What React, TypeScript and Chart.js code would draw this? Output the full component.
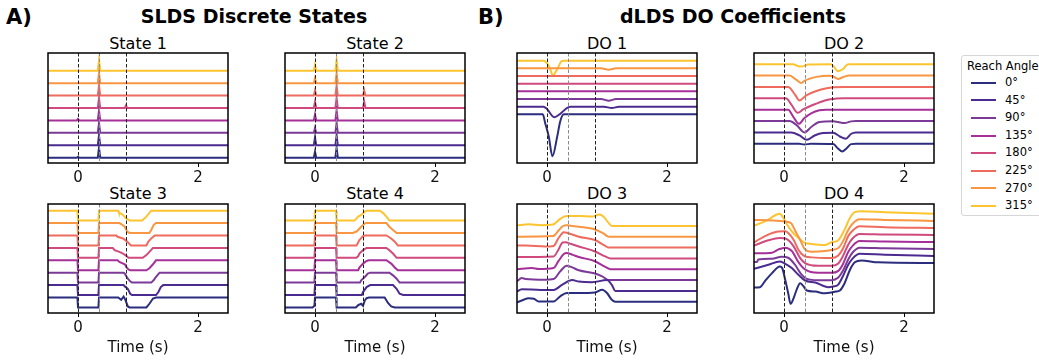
import React, { useEffect, useRef } from "react";
import { Chart, registerables } from "chart.js";

Chart.register(...registerables);

type Pt = [number, number];

const FONT = "'DejaVu Sans', sans-serif";
const ANGLES = ["0°", "45°", "90°", "135°", "180°", "225°", "270°", "315°"];
const COLORS = ["#2b2d7e", "#4b2b90", "#7b3a98", "#a5309a", "#d04a7d", "#ee6b5e", "#f89641", "#fcc42e"];
const EVENT_TIMES = [0, 0.35, 0.8];
const EVENT_COLORS = ["#222222", "#8a8a8a", "#222222"];
const X_TICKS = [0, 2];
const X_MIN = -0.5;
const X_MAX = 2.5;

// ---------- SLDS discrete-state probabilities (one list per reach angle, 0° .. 315°) ----------
const STATE1: Pt[][] = [
  [[-0.5, 0], [-0.02, 0], [0, 0.1], [0.02, 0], [0.33, 0], [0.35, 1], [0.37, 0], [2.5, 0]],
  [[-0.5, 0], [0.33, 0], [0.35, 1], [0.37, 0], [2.5, 0]],
  [[-0.5, 0], [0.33, 0], [0.35, 1], [0.37, 0], [2.5, 0]],
  [[-0.5, 0], [-0.02, 0], [0, 0.15], [0.02, 0], [0.33, 0], [0.35, 1], [0.37, 0], [2.5, 0]],
  [[-0.5, 0], [0.33, 0], [0.35, 1], [0.37, 0], [0.78, 0], [0.8, 0.25], [0.82, 0], [2.5, 0]],
  [[-0.5, 0], [0.33, 0], [0.35, 1], [0.37, 0], [2.5, 0]],
  [[-0.5, 0], [0.33, 0], [0.35, 1], [0.37, 0], [2.5, 0]],
  [[-0.5, 0], [0.33, 0], [0.35, 1.05], [0.37, 0], [2.5, 0]],
];

const STATE2: Pt[][] = [
  [[-0.5, 0], [-0.02, 0], [0, 0.6], [0.02, 0], [0.34, 0], [0.36, 1], [0.38, 0], [2.5, 0]],
  [[-0.5, 0], [-0.02, 0], [0, 0.8], [0.02, 0], [0.34, 0], [0.36, 1], [0.38, 0], [2.5, 0]],
  [[-0.5, 0], [-0.02, 0], [0, 0.5], [0.02, 0], [0.34, 0], [0.36, 1], [0.38, 0], [2.5, 0]],
  [[-0.5, 0], [-0.02, 0], [0, 0.6], [0.02, 0], [0.34, 0], [0.36, 1], [0.38, 0], [2.5, 0]],
  [[-0.5, 0], [-0.02, 0], [0, 0.6], [0.02, 0], [0.34, 0], [0.36, 1], [0.38, 0], [0.8, 0], [0.82, 0.64], [0.84, 0], [2.5, 0]],
  [[-0.5, 0], [-0.02, 0], [0, 0.5], [0.02, 0], [0.34, 0], [0.36, 1], [0.38, 0], [0.8, 0], [0.82, 0.5], [0.84, 0], [2.5, 0]],
  [[-0.5, 0], [-0.02, 0], [0, 0.5], [0.02, 0], [0.34, 0], [0.36, 1], [0.38, 0], [2.5, 0]],
  [[-0.5, 0], [-0.02, 0], [0, 0.6], [0.02, 0], [0.34, 0], [0.36, 1.05], [0.38, 0], [2.5, 0]],
];

const STATE3: Pt[][] = [
  [[-0.5, 1], [-0.01, 1], [0, 0], [0.34, 0], [0.35, 1], [0.67, 1], [0.72, 0.77], [0.76, 1.1], [0.79, 0.77], [0.83, 0.1], [0.86, 0], [1.14, 0], [1.19, 0.37], [1.25, 0.9], [1.3, 1], [2.5, 1]],
  [[-0.5, 1], [-0.01, 1], [0, 0], [0.34, 0], [0.35, 1], [0.76, 1], [0.78, 0.87], [0.83, 0.63], [0.87, 0.13], [0.9, 0], [1.3, 0], [1.34, 0.3], [1.38, 0.8], [1.42, 1], [2.5, 1]],
  [[-0.5, 1], [-0.01, 1], [0, 0], [0.34, 0], [0.35, 1], [0.76, 1], [0.78, 0.9], [0.83, 0.4], [0.87, 0.13], [0.9, 0], [1.22, 0], [1.26, 0.23], [1.3, 0.57], [1.36, 1], [2.5, 1]],
  [[-0.5, 1], [-0.01, 1], [0, 0], [0.34, 0], [0.35, 1], [0.66, 1], [0.69, 0.83], [0.78, 0.6], [0.81, 0.27], [0.84, 0.07], [0.87, 0], [1.14, 0], [1.19, 0.2], [1.25, 0.6], [1.3, 1], [2.5, 1]],
  [[-0.5, 1], [-0.01, 1], [0, 0], [0.34, 0], [0.35, 1], [0.58, 1], [0.61, 0.77], [0.69, 0.6], [0.75, 0.43], [0.81, 0.17], [0.84, 0], [1.08, 0], [1.14, 0.27], [1.19, 0.6], [1.25, 1], [2.5, 1]],
  [[-0.5, 1], [-0.01, 1], [0, 0], [0.34, 0], [0.35, 1], [0.64, 1], [0.66, 0.87], [0.75, 0.7], [0.81, 0.43], [0.85, 0.2], [0.88, 0], [1.14, 0], [1.17, 0.37], [1.22, 0.7], [1.28, 1], [2.5, 1]],
  [[-0.5, 1], [-0.01, 1], [0, 0], [0.34, 0], [0.35, 1], [0.69, 1], [0.72, 0.9], [0.78, 0.63], [0.82, 0.13], [0.86, 0], [1.19, 0], [1.22, 0.3], [1.26, 0.8], [1.3, 1], [2.5, 1]],
  [[-0.5, 1], [-0.01, 1], [0, 0], [0.34, 0], [0.35, 1], [0.67, 1], [0.68, 0.83], [0.75, 0.57], [0.8, 0.23], [0.86, 0], [1.07, 0], [1.14, 0.4], [1.22, 1], [2.5, 1]],
];

const STATE4: Pt[][] = [
  [[-0.5, 0], [-0.04, 0], [-0.01, 0.17], [0, 1], [0.35, 1], [0.36, 0], [0.68, 0], [0.72, 0.23], [0.77, 0.37], [0.8, 0.17], [0.83, 0.7], [0.86, 0.93], [0.9, 1], [1.16, 1], [1.22, 0.43], [1.27, 0.1], [1.33, 0], [2.5, 0]],
  [[-0.5, 0], [-0.01, 0], [0, 1], [0.35, 1], [0.36, 0], [0.78, 0], [0.8, 0.3], [0.86, 0.8], [0.92, 1], [1.3, 1], [1.36, 0.63], [1.41, 0.13], [1.47, 0], [2.5, 0]],
  [[-0.5, 0], [-0.01, 0], [0, 1], [0.35, 1], [0.36, 0], [0.75, 0], [0.77, 0.23], [0.83, 0.57], [0.88, 0.9], [0.92, 1], [1.24, 1], [1.3, 0.73], [1.36, 0.4], [1.41, 0], [2.5, 0]],
  [[-0.5, 0], [-0.01, 0], [0, 1], [0.35, 1], [0.36, 0], [0.72, 0], [0.74, 0.27], [0.8, 0.67], [0.86, 0.93], [0.9, 1], [1.19, 1], [1.27, 0.67], [1.33, 0.27], [1.38, 0], [2.5, 0]],
  [[-0.5, 0], [-0.01, 0], [0, 1], [0.35, 1], [0.36, 0], [0.69, 0], [0.72, 0.17], [0.74, 0.43], [0.8, 0.77], [0.86, 1], [1.19, 1], [1.24, 0.77], [1.3, 0.43], [1.36, 0], [2.5, 0]],
  [[-0.5, 0], [-0.01, 0], [0, 1], [0.35, 1], [0.36, 0], [0.69, 0], [0.71, 0.2], [0.74, 0.53], [0.8, 0.93], [0.83, 1], [1.19, 1], [1.27, 0.7], [1.33, 0.37], [1.38, 0], [2.5, 0]],
  [[-0.5, 0], [-0.01, 0], [0, 1], [0.35, 1], [0.36, 0], [0.63, 0], [0.7, 0.17], [0.77, 0.63], [0.83, 0.97], [0.86, 1], [1.19, 1], [1.24, 0.63], [1.3, 0.3], [1.36, 0], [2.5, 0]],
  [[-0.5, 0], [-0.01, 0], [0, 1], [0.35, 1], [0.36, 0], [0.66, 0], [0.72, 0.4], [0.77, 0.57], [0.83, 0.9], [0.86, 1], [1.08, 1], [1.14, 0.73], [1.19, 0.4], [1.24, 0], [2.5, 0]],
];

// ---------- dLDS DO coefficients (relative to each trace's own baseline) ----------
const DO1: Pt[][] = [
  [[-0.5, 0], [-0.07, 0], [-0.03, -1.15], [0.03, -2.9], [0.09, -5.46], [0.17, -2.9], [0.22, -0.93], [0.28, 0], [2.5, 0]],
  [[-0.5, 0], [-0.06, 0], [0, -0.3], [0.12, -1.37], [0.22, -0.93], [0.33, -0.18], [0.39, 0], [0.95, 0], [1.08, -0.18], [1.2, 0], [2.5, 0]],
  [[-0.5, 0], [0.9, 0], [1.03, -0.22], [1.15, 0], [2.5, 0]],
  [[-0.5, 0], [2.5, 0]],
  [[-0.5, 0], [2.5, 0]],
  [[-0.5, 0], [2.5, 0]],
  [[-0.5, 0], [0.9, 0], [1.03, -0.18], [1.15, 0], [2.5, 0]],
  [[-0.5, 0], [-0.06, 0], [0.03, -0.66], [0.1, -1.9], [0.17, -1.1], [0.24, -0.09], [0.28, 0], [2.5, 0]],
];

const DO2: Pt[][] = [
  [[-0.5, 0], [0.25, 0], [0.34, -0.06], [0.45, 0], [0.82, -0.03], [0.9, -0.42], [0.97, -0.68], [1.04, -0.42], [1.12, -0.03], [1.2, 0], [2.5, 0]],
  [[-0.5, 0], [0.12, 0], [0.26, -0.27], [0.38, -0.65], [0.51, -0.27], [0.65, -0.06], [0.82, -0.03], [0.93, -0.36], [1.03, -0.56], [1.12, -0.12], [1.2, 0], [2.5, 0]],
  [[-0.5, 0], [0.09, 0], [0.21, -0.36], [0.34, -1.0], [0.46, -0.5], [0.59, -0.09], [0.82, -0.03], [0.9, -0.09], [1.01, -0.18], [1.12, -0.03], [1.2, 0], [2.5, 0]],
  [[-0.5, 0], [0.07, 0], [0.15, -0.59], [0.25, -1.25], [0.34, -0.74], [0.46, -0.3], [0.59, -0.06], [0.7, 0], [2.5, 0]],
  [[-0.5, 0], [0.03, 0], [0.12, -0.53], [0.23, -1.28], [0.32, -0.98], [0.54, -0.47], [0.71, -0.15], [0.87, -0.03], [1.0, 0], [2.5, 0]],
  [[-0.5, 0], [0.07, 0], [0.18, -0.65], [0.26, -1.19], [0.37, -0.74], [0.54, -0.36], [0.71, -0.12], [0.82, -0.03], [1.0, 0], [2.5, 0]],
  [[-0.5, 0], [0.09, 0], [0.21, -0.39], [0.29, -0.65], [0.34, -0.47], [0.43, -0.27], [0.54, -0.12], [0.76, -0.03], [0.82, -0.09], [0.9, -0.3], [0.98, -0.15], [1.09, 0], [2.5, 0]],
  [[-0.5, 0], [0.15, 0], [0.26, -0.2], [0.34, -0.15], [0.4, -0.03], [0.78, 0], [0.82, -0.15], [0.9, -0.62], [0.98, -0.45], [1.07, 0], [2.5, 0]],
];

const DO3: Pt[][] = [
  [[-0.5, -0.06], [-0.39, 0.18], [-0.31, 0.33], [-0.22, 0.28], [-0.14, 0.03], [0.11, 0.03], [0.22, 0.5], [0.33, 0.8], [0.53, 0.8], [0.8, 0.86], [0.92, 1.1], [1.0, 0.8], [1.08, 0.18], [1.14, 0], [2.5, 0]],
  [[-0.5, -0.06], [-0.42, 0.15], [-0.1, 0.09], [0.11, 0.09], [0.25, 0.55], [0.42, 1.0], [0.53, 0.86], [0.75, 0.8], [1.0, 1.0], [1.08, 0.55], [1.14, 0], [2.5, 0]],
  [[-0.5, -0.1], [-0.42, 0.18], [-0.36, 0.1], [-0.03, 0.03], [0.11, 0.09], [0.22, 0.8], [0.33, 1.32], [0.42, 1.17], [0.53, 0.9], [0.8, 0.6], [0.92, 0.34], [1.03, 0], [2.5, 0]],
  [[-0.5, 0], [-0.25, 0.12], [-0.14, 0.03], [0.11, 0.12], [0.19, 0.74], [0.28, 1.41], [0.33, 1.5], [0.42, 1.35], [0.53, 1.13], [0.8, 0.74], [0.97, 0.21], [1.06, 0], [2.5, 0]],
  [[-0.5, 0.12], [0.11, 0.18], [0.19, 0.8], [0.26, 1.47], [0.31, 1.5], [0.39, 1.35], [0.53, 1.1], [0.8, 0.64], [0.97, 0.18], [1.06, 0], [2.5, 0]],
  [[-0.5, 0.18], [-0.35, 0.18], [-0.03, 0.1], [0.11, 0.15], [0.19, 0.86], [0.25, 1.3], [0.28, 1.41], [0.36, 1.32], [0.53, 1.0], [0.8, 0.7], [0.97, 0.15], [1.03, 0], [2.5, 0]],
  [[-0.5, 0], [0.1, 0.06], [0.19, 0.55], [0.25, 0.92], [0.31, 1.07], [0.36, 1.04], [0.53, 0.92], [0.8, 0.67], [0.94, 0.3], [1.03, 0], [2.5, 0]],
  [[-0.5, 0.05], [-0.3, 0.15], [-0.1, 0.06], [0.1, 0.12], [0.2, 0.55], [0.28, 0.86], [0.35, 0.92], [0.55, 0.92], [0.75, 0.86], [0.87, 1.04], [0.94, 0.86], [1.03, 0.25], [1.08, 0], [2.5, 0]],
];

const DO4: Pt[][] = [
  [[-0.5, -3.48], [-0.4, -3.43], [-0.32, -2.6], [-0.2, -1.43], [-0.07, -0.48], [-0.03, -0.71], [0.02, -2.38], [0.07, -4.3], [0.11, -5.8], [0.16, -5.0], [0.21, -3.8], [0.27, -2.86], [0.32, -3.24], [0.38, -3.9], [0.52, -4.05], [0.68, -4.3], [0.79, -4.19], [0.86, -4.05], [0.93, -3.9], [1.01, -2.86], [1.1, -0.95], [1.18, 0.1], [1.29, 0.38], [1.57, 0.1], [2.5, 0]],
  [[-0.5, -1.81], [-0.26, -1.24], [-0.07, -0.76], [0, -1.0], [0.13, -1.71], [0.24, -2.67], [0.35, -3.48], [0.52, -3.76], [0.74, -4.43], [0.82, -4.33], [0.9, -4.1], [0.98, -2.9], [1.07, -1.24], [1.15, -0.29], [1.26, 0.33], [1.68, 0.19], [2.5, 0]],
  [[-0.5, -1.86], [-0.45, -1.86], [-0.43, -1.48], [-0.2, -1.38], [-0.04, -1.1], [0.07, -1.24], [0.18, -2.2], [0.29, -3.6], [0.38, -4.24], [0.57, -4.43], [0.79, -4.43], [0.9, -4.1], [0.98, -3.14], [1.07, -1.48], [1.15, -0.43], [1.26, 0.19], [1.68, 0.1], [2.5, 0]],
  [[-0.5, -1.62], [-0.2, -1.52], [-0.09, -1.05], [0.02, -0.81], [0.13, -1.29], [0.24, -2.86], [0.35, -3.9], [0.57, -4.38], [0.79, -4.38], [0.9, -4.14], [0.98, -3.19], [1.07, -1.43], [1.15, -0.48], [1.26, 0.14], [1.68, 0.05], [2.5, 0]],
  [[-0.5, -1.52], [-0.26, -0.76], [-0.07, -0.43], [0.04, -0.57], [0.16, -1.62], [0.27, -3.29], [0.35, -4.0], [0.57, -4.38], [0.79, -4.38], [0.9, -4.1], [0.98, -3.05], [1.07, -1.38], [1.15, -0.43], [1.26, 0.14], [1.68, 0.05], [2.5, 0]],
  [[-0.5, -2.05], [-0.3, -1.1], [-0.1, -0.52], [0.02, -0.48], [0.07, -0.71], [0.16, -1.67], [0.24, -3.1], [0.32, -3.9], [0.46, -4.19], [0.79, -4.29], [0.9, -3.95], [0.98, -3.0], [1.07, -1.19], [1.15, -0.33], [1.26, 0.24], [1.68, 0.1], [2.5, 0]],
  [[-0.5, 0.14], [-0.2, 0.05], [0.02, -0.1], [0.12, -0.33], [0.18, -1.29], [0.27, -2.71], [0.35, -4.05], [0.46, -4.38], [0.68, -4.3], [0.79, -4.14], [0.9, -3.9], [0.98, -2.95], [1.07, -1.29], [1.15, -0.33], [1.26, 0.24], [1.68, 0.14], [2.5, 0]],
  [[-0.5, -1.67], [-0.3, -1.0], [-0.07, 0], [-0.01, -0.57], [0.04, -1.38], [0.13, -2.48], [0.24, -3.43], [0.35, -4.14], [0.46, -4.29], [0.68, -4.43], [0.79, -4.05], [0.9, -3.8], [1.01, -2.24], [1.1, -0.57], [1.18, 0.24], [1.29, 0.38], [1.68, 0.24], [2.5, 0]],
];

// ---------- layout ----------
type PanelCfg = {
  title: string;
  series: Pt[][];
  spacing: number;
  yMin: number;
  yMax: number;
  smooth: boolean;
  plotL: number;
  plotT: number;
  plotB: number;
  bottomRow: boolean;
};

const PLOT_W = 180;
const PAD_X = 12;
const PAD_T = 4;
const PAD_B = 1;
const TICK_FONT = 15;
const LABEL_FONT = 15;

const PANELS: PanelCfg[] = [
  { title: "State 1", series: STATE1, spacing: 1.25, yMin: -0.53, yMax: 10.53, smooth: false, plotL: 48, plotT: 53, plotB: 163, bottomRow: false },
  { title: "State 2", series: STATE2, spacing: 1.25, yMin: -0.53, yMax: 10.53, smooth: false, plotL: 285, plotT: 53, plotB: 163, bottomRow: false },
  { title: "State 3", series: STATE3, spacing: 1.25, yMin: -0.56, yMax: 10.42, smooth: false, plotL: 48, plotT: 204, plotB: 313, bottomRow: true },
  { title: "State 4", series: STATE4, spacing: 1.25, yMin: -0.56, yMax: 10.42, smooth: false, plotL: 285, plotT: 204, plotB: 313, bottomRow: true },
  { title: "DO 1", series: DO1, spacing: 1, yMin: -6.34, yMax: 8.0, smooth: true, plotL: 517, plotT: 53, plotB: 163, bottomRow: false },
  { title: "DO 2", series: DO2, spacing: 1, yMin: -1.69, yMax: 7.98, smooth: true, plotL: 754, plotT: 53, plotB: 163, bottomRow: false },
  { title: "DO 3", series: DO3, spacing: 1, yMin: -1.04, yMax: 9.02, smooth: true, plotL: 517, plotT: 204, plotB: 313, bottomRow: true },
  { title: "DO 4", series: DO4, spacing: 1, yMin: -7.1, yMax: 8.4, smooth: true, plotL: 754, plotT: 204, plotB: 313, bottomRow: true },
];

const framePlugin = {
  id: "frame",
  afterDraw(chart: any) {
    const { ctx, chartArea } = chart;
    ctx.save();
    ctx.strokeStyle = "#000";
    ctx.lineWidth = 1.5;
    ctx.strokeRect(chartArea.left, chartArea.top, chartArea.right - chartArea.left, chartArea.bottom - chartArea.top);
    ctx.restore();
  },
};

const eventPlugin = {
  id: "events",
  afterDatasetsDraw(chart: any) {
    const { ctx, chartArea, scales } = chart;
    ctx.save();
    ctx.lineWidth = 1;
    ctx.setLineDash([3.5, 2]);
    EVENT_TIMES.forEach((t, i) => {
      const x = Math.round(scales.x.getPixelForValue(t)) + 0.5;
      ctx.strokeStyle = EVENT_COLORS[i];
      ctx.beginPath();
      ctx.moveTo(x, chartArea.top);
      ctx.lineTo(x, chartArea.bottom);
      ctx.stroke();
    });
    ctx.restore();
  },
};

function Panel({ cfg }: { cfg: PanelCfg }) {
  const ref = useRef<HTMLCanvasElement>(null);
  const axisH = 4 + TICK_FONT * 1.2 + 4 + (cfg.bottomRow ? LABEL_FONT * 1.2 : 0);
  const width = PLOT_W + PAD_X * 2;
  const height = Math.round(PAD_T + (cfg.plotB - cfg.plotT) + axisH + PAD_B);
  const left = cfg.plotL - PAD_X;
  const top = cfg.plotT - PAD_T;

  useEffect(() => {
    const chart = new Chart(ref.current as HTMLCanvasElement, {
      type: "line",
      data: {
        datasets: cfg.series.map((s, i) => ({
          label: ANGLES[i],
          data: s.map(([x, y]) => ({ x, y: y + i * cfg.spacing })),
          borderColor: COLORS[i],
          backgroundColor: COLORS[i],
          borderWidth: 2,
          pointRadius: 0,
          fill: false,
          tension: 0,
          cubicInterpolationMode: cfg.smooth ? "monotone" : "default",
        })),
      },
      options: {
        animation: false,
        responsive: false,
        maintainAspectRatio: false,
        layout: { padding: { left: PAD_X, right: PAD_X, top: PAD_T, bottom: height - (PAD_T + (cfg.plotB - cfg.plotT) + axisH) } },
        plugins: { legend: { display: false }, tooltip: { enabled: false }, title: { display: false } },
        scales: {
          x: {
            type: "linear",
            min: X_MIN,
            max: X_MAX,
            afterBuildTicks: (axis: any) => {
              axis.ticks = X_TICKS.map((v) => ({ value: v }));
            },
            ticks: {
              font: { family: FONT, size: TICK_FONT },
              color: "#111",
              padding: 2,
              maxRotation: 0,
              autoSkip: false,
              callback: (v: any) => String(v),
            },
            grid: { display: true, drawOnChartArea: false, drawTicks: true, tickLength: 4, color: "#000", lineWidth: 1 },
            border: { display: false },
            title: {
              display: cfg.bottomRow,
              text: "Time (s)",
              font: { family: FONT, size: LABEL_FONT },
              color: "#111",
              padding: 0,
            },
          },
          y: { type: "linear", display: false, min: cfg.yMin, max: cfg.yMax },
        },
      },
      plugins: [framePlugin, eventPlugin],
    } as any);
    return () => chart.destroy();
  }, []);

  return (
    <canvas
      ref={ref}
      width={width}
      height={height}
      style={{ position: "absolute", left, top, width, height }}
    />
  );
}

function Text({ children, x, baseline, size, bold, center }: any) {
  return (
    <div
      style={{
        position: "absolute",
        left: center ? x - 200 : x,
        width: center ? 400 : undefined,
        top: baseline - 0.846 * size,
        fontFamily: FONT,
        fontSize: size,
        lineHeight: `${size}px`,
        fontWeight: bold ? "bold" : "normal",
        textAlign: center ? "center" : "left",
        whiteSpace: "nowrap",
        color: "#000",
      }}
    >
      {children}
    </div>
  );
}

function Legend() {
  return (
    <div
      style={{
        position: "absolute",
        left: 961,
        top: 55,
        width: 100,
        height: 161,
        border: "1px solid #d6d6d6",
        borderRadius: 3,
        background: "#fff",
        boxSizing: "border-box",
      }}
    >
      <div style={{ position: "absolute", left: 5, top: 69.3 - 55 - 0.846 * 11.5, fontFamily: FONT, fontSize: 11.5, lineHeight: "11.5px", whiteSpace: "nowrap" }}>
        Reach Angle
      </div>
      {ANGLES.map((a, i) => (
        <React.Fragment key={a}>
          <div style={{ position: "absolute", left: 9, top: 81.7 - 55 - 1 + i * 17.6, width: 25, height: 2, background: COLORS[i] }} />
          <div style={{ position: "absolute", left: 43, top: 85.7 - 55 - 0.846 * 11.5 + i * 17.6, fontFamily: FONT, fontSize: 11.5, lineHeight: "11.5px", whiteSpace: "nowrap" }}>
            {a}
          </div>
        </React.Fragment>
      ))}
    </div>
  );
}

export default function App() {
  return (
    <div style={{ position: "absolute", left: 0, top: 0, width: 1039, height: 360, overflow: "hidden", background: "#fff" }}>
      <Text x={6} baseline={25} size={21} bold>A)</Text>
      <Text x={478} baseline={25} size={21} bold>B)</Text>
      <Text x={254} baseline={23.3} size={19} bold center>SLDS Discrete States</Text>
      <Text x={733} baseline={23.3} size={19} bold center>dLDS DO Coefficients</Text>
      {PANELS.map((p) => (
        <Text key={p.title} x={p.plotL + PLOT_W / 2} baseline={p.bottomRow ? 200 : 49.3} size={16} center>
          {p.title}
        </Text>
      ))}
      {PANELS.map((p) => (
        <Panel key={p.title + "-c"} cfg={p} />
      ))}
      <Legend />
    </div>
  );
}
